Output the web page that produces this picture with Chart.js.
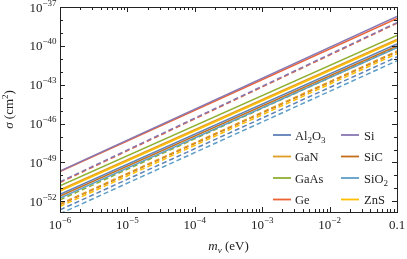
<!DOCTYPE html>
<html>
<head>
<meta charset="utf-8">
<script src="https://cdn.jsdelivr.net/npm/chart.js@4/dist/chart.umd.min.js"></script>
<style>
  body { margin: 0; background: #fff; }
  #wrap { position: relative; width: 407px; height: 259px; }
</style>
</head>
<body>
<div id="wrap"><canvas id="grafico" width="407" height="259"></canvas></div>
<script>
// x positions where the values were read (eV)
const masses = [1e-6, 0.1];
const materials = ['Al2O3', 'GaN', 'GaAs', 'Ge', 'Si', 'SiC', 'SiO2', 'ZnS'];
// cross-sections (cm^2) at m = 1e-6 and m = 0.1
const solidAl2O3 = [3.5e-52, 1.4e-40];
const solidGaN = [7.9e-52, 3.2e-40];
const solidGaAs = [1.6e-51, 6.3e-40];
const solidGe = [2.0e-50, 1.3e-38];
const solidSi = [2.2e-50, 1.9e-38];
const solidSiC = [2.5e-52, 1.0e-40];
const solidSiO2 = [1.8e-52, 7.1e-41];
const solidZnS = [6.3e-52, 2.5e-40];
const dashAl2O3 = [2.2e-53, 1.4e-41];
const dashGaN = [6.3e-53, 4.0e-41];
const dashGaAs = [1.3e-52, 7.9e-41];
const dashGe = [2.8e-51, 5.6e-39];
const dashSi = [3.2e-51, 6.3e-39];
const dashSiC = [5.6e-53, 3.5e-41];
const dashSiO2 = [1.1e-53, 7.1e-42];
const dashZnS = [4.0e-53, 2.5e-41];
const xTickLabels = ['10^-6', '10^-5', '10^-4', '10^-3', '10^-2', '0.1'];
const yTickLabels = ['10^-37', '10^-40', '10^-43', '10^-46', '10^-49', '10^-52'];

const solid = [solidAl2O3, solidGaN, solidGaAs, solidGe, solidSi, solidSiC, solidSiO2, solidZnS];
const dashed = [dashAl2O3, dashGaN, dashGaAs, dashGe, dashSi, dashSiC, dashSiO2, dashZnS];
const colors = ['#5E81B5', '#E19C24', '#8FB032', '#EB6235', '#8778B3', '#C56E1A', '#5D9EC7', '#FFBF00'];

const FONT = '"Liberation Serif", "DejaVu Serif", serif';

function fontOf(p) {
    return (p.it ? 'italic ' : '') + (p.size || 13) + 'px ' + FONT;
}
function drawRich(ctx, parts, x, y, align) {
    let w = 0;
    parts.forEach(p => { ctx.font = fontOf(p); w += ctx.measureText(p.t).width; });
    let cx = align === 'center' ? x - w / 2 : align === 'right' ? x - w : x;
    parts.forEach(p => {
        ctx.font = fontOf(p);
        ctx.fillText(p.t, cx, y + (p.dy || 0));
        cx += ctx.measureText(p.t).width;
    });
}
function labelParts(s) {
    if (s.indexOf('^') < 0) return [{ t: s }];
    const [b, e] = s.split('^');
    return [{ t: b }, { t: e.replace('-', '\u2212'), size: 9, dy: -6 }];
}
function nameParts(n) {
    const out = [];
    n.replace(/([A-Za-z]+)(\d*)/g, (m, a, d) => {
        out.push({ t: a, size: 12.5 });
        if (d) out.push({ t: d, size: 9, dy: 3 });
    });
    return out;
}

const datasets = [];
// purple/red first so they sit on top
const drawOrder = [4, 3, 2, 7, 1, 0, 5, 6];
drawOrder.forEach(i => {
    datasets.push({
        label: materials[i],
        data: masses.map((m, j) => ({ x: m, y: solid[i][j] })),
        borderColor: colors[i], borderWidth: 1.5, pointRadius: 0, fill: false
    });
});
drawOrder.forEach(i => {
    datasets.push({
        label: materials[i] + ' dashed',
        data: masses.map((m, j) => ({ x: m, y: dashed[i][j] })),
        borderColor: colors[i], borderWidth: 1.5, borderDash: [5, 3], pointRadius: 0, fill: false
    });
});

const axesPlugin = {
    id: 'axesPlugin',
    afterDraw(chart) {
        const { ctx, chartArea: a, scales: { x, y } } = chart;
        ctx.save();
        ctx.strokeStyle = '#222';
        ctx.lineWidth = 1;
        ctx.strokeRect(Math.round(a.left) + 0.5, Math.round(a.top) + 0.5,
            Math.round(a.right - a.left), Math.round(a.bottom - a.top));
        ctx.beginPath();
        // x ticks, inward, top and bottom
        for (let k = -6; k <= -1; k++) {
            for (let m = 1; m <= 9; m++) {
                const v = m * Math.pow(10, k);
                if (v > 0.1001) break;
                const px = Math.round(x.getPixelForValue(v)) + 0.5;
                const len = m === 1 ? 5 : 3;
                ctx.moveTo(px, a.bottom); ctx.lineTo(px, a.bottom - len);
                ctx.moveTo(px, a.top); ctx.lineTo(px, a.top + len);
            }
        }
        // y ticks, every decade
        for (let k = -52; k <= -37; k++) {
            const py = Math.round(y.getPixelForValue(Math.pow(10, k))) + 0.5;
            const len = (k + 37) % 3 === 0 ? 5 : 3;
            ctx.moveTo(a.left, py); ctx.lineTo(a.left + len, py);
            ctx.moveTo(a.right, py); ctx.lineTo(a.right - len, py);
        }
        ctx.stroke();

        ctx.fillStyle = '#222';
        ctx.textBaseline = 'alphabetic';
        xTickLabels.forEach((s, i) => {
            const px = x.getPixelForValue(Math.pow(10, -6 + i));
            drawRich(ctx, labelParts(s), px, a.bottom + 16.5, 'center');
        });
        yTickLabels.forEach((s, i) => {
            const py = y.getPixelForValue(Math.pow(10, -37 - 3 * i));
            drawRich(ctx, labelParts(s), a.left - 3.5, py + 4.5, 'right');
        });

        // axis titles
        drawRich(ctx, [{ t: 'm', it: true }, { t: '\u03bd', it: true, size: 9, dy: 2.5 }, { t: ' (eV)' }],
            (a.left + a.right) / 2, 250, 'center');
        ctx.save();
        ctx.translate(13, (a.top + a.bottom) / 2);
        ctx.rotate(-Math.PI / 2);
        drawRich(ctx, [{ t: '\u03c3', it: true }, { t: ' (cm' }, { t: '2', size: 9, dy: -5 }, { t: ')' }], 0, 0, 'center');
        ctx.restore();

        // legend, two columns
        const rows = [135, 156.5, 178, 199.5];
        const cols = [{ x0: 273, x1: 291, tx: 295 }, { x0: 341, x1: 359, tx: 364 }];
        materials.forEach((n, i) => {
            const c = cols[Math.floor(i / 4)];
            const ry = rows[i % 4];
            ctx.strokeStyle = colors[i];
            ctx.lineWidth = 1.8;
            ctx.beginPath();
            ctx.moveTo(c.x0, ry); ctx.lineTo(c.x1, ry);
            ctx.stroke();
            ctx.fillStyle = '#222';
            drawRich(ctx, nameParts(n), c.tx, ry + 4.5, 'left');
        });
        ctx.restore();
    }
};

window.onload = function () {
    const ctx = document.getElementById('grafico').getContext('2d');
    new Chart(ctx, {
        type: 'line',
        data: { datasets: datasets },
        options: {
            responsive: false,
            animation: false,
            layout: { padding: { left: 52, top: 7, right: 10, bottom: 39 } },
            plugins: { legend: { display: false }, tooltip: { enabled: false } },
            scales: {
                x: {
                    type: 'logarithmic', min: 1e-6, max: 0.1,
                    grid: { display: false }, border: { display: false },
                    ticks: { display: false }
                },
                y: {
                    type: 'logarithmic', min: 1.5e-53, max: 1e-37,
                    grid: { display: false }, border: { display: false },
                    ticks: { display: false }
                }
            }
        },
        plugins: [axesPlugin]
    });
};
</script>
</body>
</html>
